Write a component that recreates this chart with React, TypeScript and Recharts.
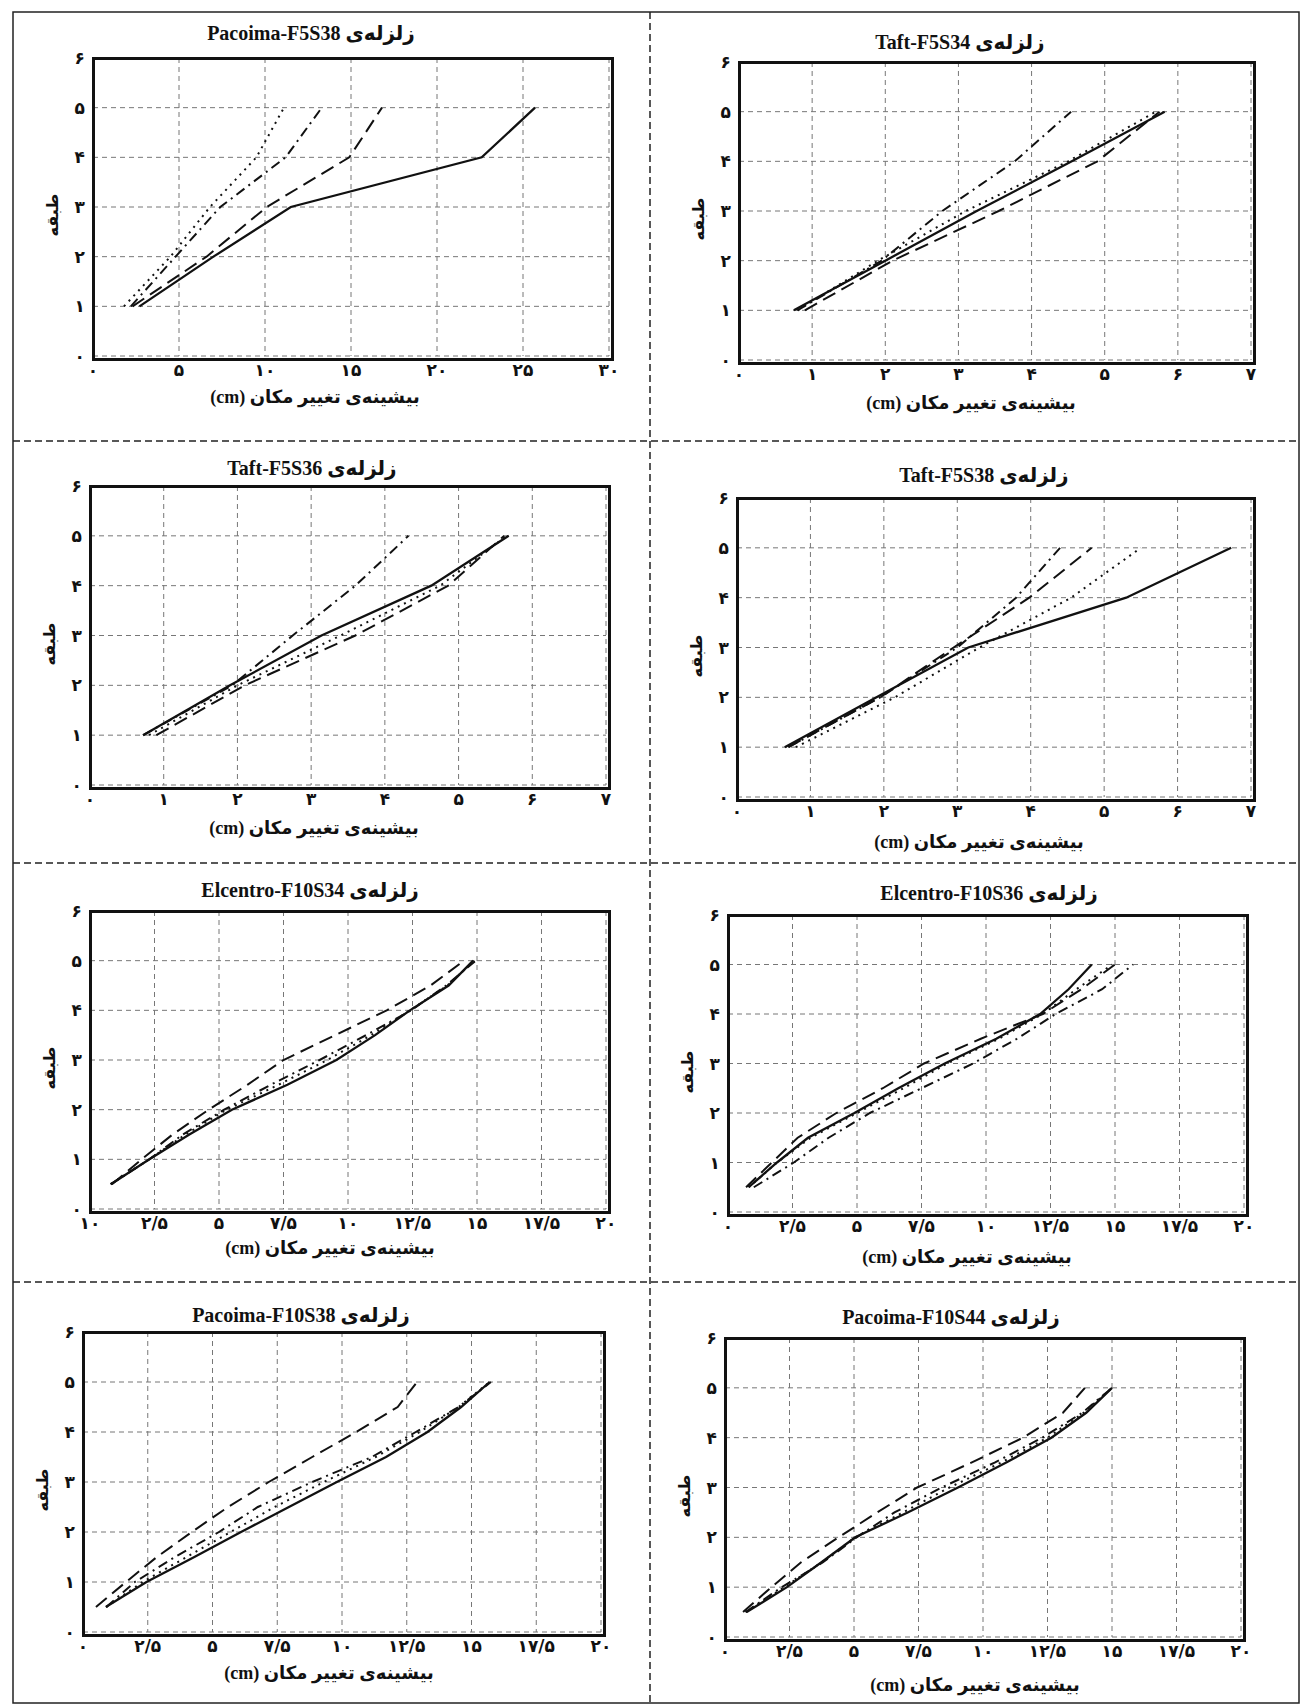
import React from 'react'
import { LineChart, Line, XAxis, YAxis, CartesianGrid } from 'recharts'

// storey levels the drift values are read at
const floorsF5 = [1, 2, 3, 4, 5]
const floorsF10 = [0.5, 1, 1.5, 2, 2.5, 3, 3.5, 4, 4.5, 5]

// axis ticks and their Persian labels
const storyTicks = [0, 1, 2, 3, 4, 5, 6]
const storyLabels = ['۰', '۱', '۲', '۳', '۴', '۵', '۶']
const dispTicks30 = [0, 5, 10, 15, 20, 25, 30]
const dispLabels30 = ['۰', '۵', '۱۰', '۱۵', '۲۰', '۲۵', '۳۰']
const dispTicks7 = [0, 1, 2, 3, 4, 5, 6, 7]
const dispLabels7 = ['۰', '۱', '۲', '۳', '۴', '۵', '۶', '۷']
const dispTicks20 = [0, 2.5, 5, 7.5, 10, 12.5, 15, 17.5, 20]
const dispLabels20 = ['۰', '۲/۵', '۵', '۷/۵', '۱۰', '۱۲/۵', '۱۵', '۱۷/۵', '۲۰']
const dispLabels20Elcentro = ['۱۰', '۲/۵', '۵', '۷/۵', '۱۰', '۱۲/۵', '۱۵', '۱۷/۵', '۲۰']

// Pacoima-F5S38
const pacoimaF5S38Solid = [2.7, 7.0, 11.5, 22.6, 25.7]
const pacoimaF5S38Dashed = [2.3, 6.6, 10.1, 14.9, 16.8]
const pacoimaF5S38DashDot = [2.2, 4.8, 7.4, 11.2, 13.3]
const pacoimaF5S38Dotted = [1.8, 4.5, 6.8, 9.5, 11.1]

// Taft-F5S34
const taftF5S34Solid = [0.75, 2.0, 3.25, 4.55, 5.82]
const taftF5S34Dashed = [0.9, 2.1, 3.55, 4.9, 5.75]
const taftF5S34DashDot = [0.8, 1.95, 2.78, 3.77, 4.54]
const taftF5S34Dotted = [0.8, 1.9, 3.1, 4.5, 5.7]

// Taft-F5S36
const taftF5S36Solid = [0.72, 1.9, 3.14, 4.63, 5.68]
const taftF5S36Dashed = [0.9, 2.1, 3.6, 4.86, 5.62]
const taftF5S36DashDot = [0.72, 1.93, 2.75, 3.6, 4.32]
const taftF5S36Dotted = [0.8, 2.0, 3.4, 4.75, 5.65]

// Taft-F5S38
const taftF5S38Solid = [0.65, 1.9, 3.15, 5.3, 6.73]
const taftF5S38Dashed = [0.7, 1.95, 2.95, 3.98, 4.83]
const taftF5S38DashDot = [0.7, 1.95, 3.0, 3.8, 4.4]
const taftF5S38Dotted = [0.8, 2.15, 3.3, 4.55, 5.5]

// Elcentro-F10S34
const elcentroF10S34Solid = [0.81, 2.3, 3.85, 5.5, 7.65, 9.55, 11.05, 12.4, 13.9, 14.85]
const elcentroF10S34Dashed = [0.85, 2.0, 3.2, 4.6, 6.1, 7.5, 9.5, 11.5, 13.2, 14.5]
const elcentroF10S34DashDot = [0.8, 2.3, 3.6, 5.2, 7.0, 8.9, 10.7, 12.45, 13.8, 14.95]
const elcentroF10S34Dotted = [0.8, 2.3, 3.7, 5.3, 7.3, 9.2, 10.9, 12.4, 13.85, 14.9]

// Elcentro-F10S36
const elcentroF10S36Solid = [0.8, 1.9, 3.1, 4.9, 6.6, 8.4, 10.4, 12.1, 13.2, 14.1]
const elcentroF10S36Dashed = [0.7, 1.7, 2.7, 4.2, 6.0, 7.6, 9.8, 12.2, 13.7, 15.0]
const elcentroF10S36DashDot = [1.0, 2.55, 3.9, 5.5, 7.5, 9.5, 11.2, 12.7, 14.5, 15.7]
const elcentroF10S36Dotted = [0.8, 1.9, 3.2, 5.0, 6.8, 8.5, 10.5, 12.2, 13.5, 14.9]

// Pacoima-F10S38
const pacoimaF10S38Solid = [0.88, 2.45, 4.3, 6.1, 7.95, 9.8, 11.7, 13.3, 14.6, 15.7]
const pacoimaF10S38Dashed = [0.5, 1.66, 2.85, 4.2, 5.6, 7.17, 8.85, 10.55, 12.15, 12.9]
const pacoimaF10S38DashDot = [0.9, 2.0, 3.55, 5.25, 6.75, 8.85, 11.15, 12.85, 14.5, 15.75]
const pacoimaF10S38Dotted = [0.9, 2.3, 4.0, 5.7, 7.4, 9.3, 11.3, 13.0, 14.5, 15.7]

// Pacoima-F10S44
const pacoimaF10S44Solid = [0.84, 2.4, 3.74, 5.05, 7.08, 9.03, 10.9, 12.65, 14.0, 15.0]
const pacoimaF10S44Dashed = [0.7, 1.8, 2.95, 4.4, 5.9, 7.45, 9.55, 11.55, 13.1, 13.95]
const pacoimaF10S44DashDot = [0.8, 2.2, 3.8, 5.1, 6.57, 8.4, 10.45, 12.3, 13.85, 15.0]
const pacoimaF10S44Dotted = [0.8, 2.3, 3.75, 5.05, 6.9, 8.7, 10.7, 12.5, 13.9, 15.0]

// solid, long dash, dash-dot, dotted
const lineDash = [undefined, '14 7', '10 5 2 5', '2 5']

const TITLE_PREFIX = 'زلزله\u200cی'
const X_LABEL = 'بیشینه\u200cی تغییر مکان (cm)'
const Y_LABEL = 'طبقه'

const FONT = "'Liberation Serif', 'DejaVu Sans', serif"

interface PanelProps {
  name: string
  floors: number[]
  series: number[][]
  xMax: number
  xTicks: number[]
  xLabels: string[]
  left: number
  top: number
  width: number
  height: number
  titleX: number
  titleY: number
  labelX: number
  labelY: number
}

const toPoints = (floors: number[], values: number[]) =>
  floors.map((y, i) => ({ x: values[i], y }))

const tickStyle = {
  fontSize: 17,
  fontFamily: "'DejaVu Sans'",
  fontWeight: 'bold' as const,
  fill: '#111'
}

const AXIS_W = 50
const PAD_TOP = 20
const PAD_RIGHT = 20
const AXIS_H = 40

const Panel: React.FC<PanelProps> = (p) => {
  return (
    <>
      <div style={{ position: 'absolute', left: p.left - AXIS_W, top: p.top - PAD_TOP }}>
        <LineChart
          width={p.width + AXIS_W + PAD_RIGHT}
          height={p.height + PAD_TOP + AXIS_H}
          margin={{ top: PAD_TOP, right: PAD_RIGHT, left: 0, bottom: 0 }}
        >
          <CartesianGrid stroke="#777" strokeDasharray="5 4" strokeWidth={1} />
          <XAxis
            type="number"
            dataKey="x"
            domain={[0, p.xMax]}
            ticks={p.xTicks}
            tickFormatter={(v, i) => p.xLabels[i]}
            axisLine={false}
            tickLine={false}
            tick={tickStyle}
            height={AXIS_H}
            interval={0}
          />
          <YAxis
            type="number"
            dataKey="y"
            domain={[0, 6]}
            ticks={storyTicks}
            tickFormatter={(v, i) => storyLabels[i]}
            axisLine={false}
            tickLine={false}
            tick={tickStyle}
            width={AXIS_W}
            interval={0}
          />
          {p.series.map((values, i) => (
            <Line
              key={i}
              data={toPoints(p.floors, values)}
              dataKey="y"
              type="linear"
              stroke="#111"
              strokeWidth={i === 0 ? 2.3 : 2}
              strokeDasharray={lineDash[i]}
              dot={false}
              activeDot={false}
              isAnimationActive={false}
            />
          ))}
        </LineChart>
      </div>
      {/* heavy frame around the plotting area */}
      <div
        style={{
          position: 'absolute',
          left: p.left - 1.5,
          top: p.top - 1.5,
          width: p.width,
          height: p.height,
          border: '3px solid #111',
          pointerEvents: 'none'
        }}
      />
      <div
        dir="rtl"
        style={{
          position: 'absolute',
          left: p.titleX,
          top: p.titleY,
          transform: 'translate(-50%, -50%)',
          whiteSpace: 'nowrap',
          fontFamily: FONT,
          fontWeight: 'bold',
          fontSize: 20,
          color: '#111'
        }}
      >
        {TITLE_PREFIX} {p.name}
      </div>
      <div
        dir="rtl"
        style={{
          position: 'absolute',
          left: p.labelX,
          top: p.labelY,
          transform: 'translate(-50%, -50%)',
          whiteSpace: 'nowrap',
          fontFamily: FONT,
          fontWeight: 'bold',
          fontSize: 18,
          color: '#111'
        }}
      >
        {X_LABEL}
      </div>
      <div
        dir="rtl"
        style={{
          position: 'absolute',
          left: p.left - 41,
          top: p.top + p.height / 2 + 8,
          transform: 'translate(-50%, -50%) rotate(-90deg)',
          whiteSpace: 'nowrap',
          fontFamily: FONT,
          fontWeight: 'bold',
          fontSize: 16,
          color: '#111'
        }}
      >
        {Y_LABEL}
      </div>
    </>
  )
}

const panels: PanelProps[] = [
  {
    name: 'Pacoima-F5S38',
    floors: floorsF5,
    series: [pacoimaF5S38Solid, pacoimaF5S38Dashed, pacoimaF5S38DashDot, pacoimaF5S38Dotted],
    xMax: 30, xTicks: dispTicks30, xLabels: dispLabels30,
    left: 93, top: 58, width: 516, height: 298,
    titleX: 311, titleY: 33, labelX: 315, labelY: 397
  },
  {
    name: 'Taft-F5S34',
    floors: floorsF5,
    series: [taftF5S34Solid, taftF5S34Dashed, taftF5S34DashDot, taftF5S34Dotted],
    xMax: 7, xTicks: dispTicks7, xLabels: dispLabels7,
    left: 739, top: 62, width: 512, height: 298,
    titleX: 960, titleY: 42, labelX: 971, labelY: 403
  },
  {
    name: 'Taft-F5S36',
    floors: floorsF5,
    series: [taftF5S36Solid, taftF5S36Dashed, taftF5S36DashDot, taftF5S36Dotted],
    xMax: 7, xTicks: dispTicks7, xLabels: dispLabels7,
    left: 90, top: 486, width: 516, height: 299,
    titleX: 312, titleY: 468, labelX: 314, labelY: 828
  },
  {
    name: 'Taft-F5S38',
    floors: floorsF5,
    series: [taftF5S38Solid, taftF5S38Dashed, taftF5S38DashDot, taftF5S38Dotted],
    xMax: 7, xTicks: dispTicks7, xLabels: dispLabels7,
    left: 737, top: 498, width: 514, height: 299,
    titleX: 984, titleY: 475, labelX: 979, labelY: 842
  },
  {
    name: 'Elcentro-F10S34',
    floors: floorsF10,
    series: [elcentroF10S34Solid, elcentroF10S34Dashed, elcentroF10S34DashDot, elcentroF10S34Dotted],
    xMax: 20, xTicks: dispTicks20, xLabels: dispLabels20Elcentro,
    left: 90, top: 911, width: 516, height: 298,
    titleX: 310, titleY: 890, labelX: 330, labelY: 1248
  },
  {
    name: 'Elcentro-F10S36',
    floors: floorsF10,
    series: [elcentroF10S36Solid, elcentroF10S36Dashed, elcentroF10S36DashDot, elcentroF10S36Dotted],
    xMax: 20, xTicks: dispTicks20, xLabels: dispLabels20,
    left: 728, top: 915, width: 516, height: 297,
    titleX: 989, titleY: 893, labelX: 967, labelY: 1257
  },
  {
    name: 'Pacoima-F10S38',
    floors: floorsF10,
    series: [pacoimaF10S38Solid, pacoimaF10S38Dashed, pacoimaF10S38DashDot, pacoimaF10S38Dotted],
    xMax: 20, xTicks: dispTicks20, xLabels: dispLabels20,
    left: 83, top: 1332, width: 518, height: 300,
    titleX: 301, titleY: 1315, labelX: 329, labelY: 1673
  },
  {
    name: 'Pacoima-F10S44',
    floors: floorsF10,
    series: [pacoimaF10S44Solid, pacoimaF10S44Dashed, pacoimaF10S44DashDot, pacoimaF10S44Dotted],
    xMax: 20, xTicks: dispTicks20, xLabels: dispLabels20,
    left: 725, top: 1338, width: 516, height: 299,
    titleX: 951, titleY: 1317, labelX: 975, labelY: 1685
  }
]

const App: React.FC = () => {
  return (
    <div
      style={{
        position: 'absolute',
        left: 0,
        top: 0,
        width: 1303,
        height: 1708,
        background: '#fff',
        overflow: 'hidden'
      }}
    >
      {/* page frame and dashed dividers between the panels */}
      <svg width={1303} height={1708} style={{ position: 'absolute', left: 0, top: 0 }}>
        <rect x={13} y={12} width={1286} height={1691} fill="none" stroke="#222" strokeWidth={1.5} />
        <line x1={650} y1={12} x2={650} y2={1703} stroke="#222" strokeWidth={1.5} strokeDasharray="7 4" />
        {[441, 863, 1282].map((y) => (
          <line key={y} x1={13} y1={y} x2={1299} y2={y} stroke="#222" strokeWidth={1.5} strokeDasharray="7 4" />
        ))}
      </svg>
      {panels.map((p) => (
        <Panel key={p.name} {...p} />
      ))}
    </div>
  )
}

export default App
